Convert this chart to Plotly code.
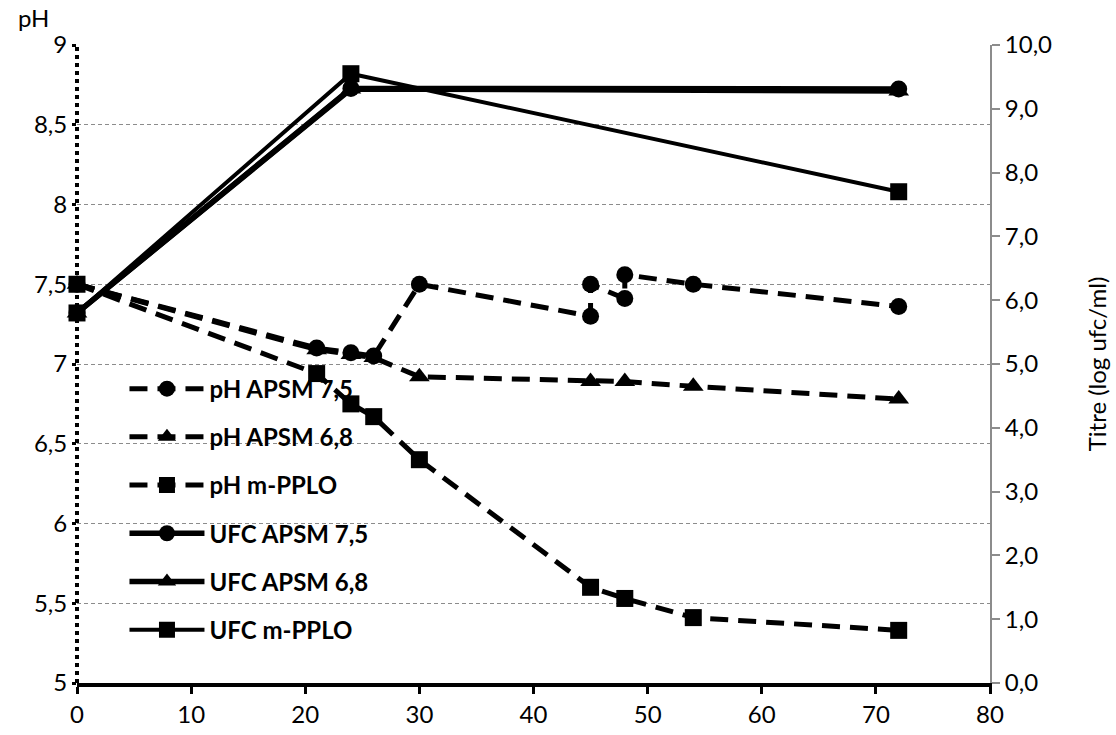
import plotly.graph_objects as go

# Time (h)
hours_apsm75 = [0, 21, 24, 26, 30, 45, 45, 48, 48, 54, 72]
ph_apsm75 = [7.5, 7.1, 7.07, 7.05, 7.5, 7.3, 7.5, 7.41, 7.56, 7.5, 7.36]

hours_apsm68 = [0, 21, 24, 26, 30, 45, 48, 54, 72]
ph_apsm68 = [7.5, 7.09, 7.06, 7.04, 6.92, 6.89, 6.89, 6.86, 6.78]

hours_pplo = [0, 21, 24, 26, 30, 45, 48, 54, 72]
ph_pplo = [7.5, 6.94, 6.75, 6.67, 6.4, 5.6, 5.53, 5.41, 5.33]

hours_ufc = [0, 24, 72]
ufc_apsm75 = [5.8, 9.32, 9.31]
ufc_apsm68 = [5.8, 9.31, 9.28]
ufc_pplo = [5.8, 9.55, 7.7]

FONT = "Lato"
DASH = "18px,10px"

fig = go.Figure()

def add(name, x, y, symbol, dash, width, axis, group):
    fig.add_trace(go.Scatter(
        x=x, y=y, name=name, mode="lines+markers",
        line=dict(color="black", width=width, dash=dash),
        marker=dict(symbol=symbol, size=17 if symbol != "triangle-up" else 18, color="black"),
        yaxis=axis, cliponaxis=False, legendgroup=group,
    ))

add("pH APSM 7,5", hours_apsm75, ph_apsm75, "circle", DASH, 5, "y", "a")
add("pH APSM 6,8", hours_apsm68, ph_apsm68, "triangle-up", DASH, 5, "y", "b")
add("pH m-PPLO", hours_pplo, ph_pplo, "square", DASH, 5, "y", "c")
add("UFC APSM 7,5", hours_ufc, ufc_apsm75, "circle", "solid", 5.5, "y2", "d")
add("UFC APSM 6,8", hours_ufc, ufc_apsm68, "triangle-up", "solid", 5.5, "y2", "e")
add("UFC m-PPLO", hours_ufc, ufc_pplo, "square", "solid", 4, "y2", "f")

# dotted left axis line
fig.add_shape(type="line", xref="paper", yref="paper", x0=0, x1=0, y0=0, y1=1,
              line=dict(color="black", width=4, dash="4px,4px"), layer="above")

fig.add_annotation(text="pH", xref="paper", yref="paper", x=-0.048, y=1.0,
                   yshift=28, xanchor="center", yanchor="middle", showarrow=False,
                   font=dict(family=FONT, size=24, color="black"))

fig.update_layout(
    width=1116, height=735,
    margin=dict(l=77, r=126, t=45, b=52),
    paper_bgcolor="white", plot_bgcolor="white",
    separators=", ",
    font=dict(family=FONT, size=24, color="black"),
    showlegend=True,
    legend=dict(x=0.052, y=0.496, xanchor="left", yanchor="top",
                bgcolor="rgba(0,0,0,0)", tracegroupgap=14, itemwidth=75,
                font=dict(family=FONT, size=24, color="black", weight="bold")),
    xaxis=dict(range=[0, 80], dtick=10, tick0=0, showgrid=False, zeroline=False,
               showline=True, linecolor="black", linewidth=4, automargin=False,
               ticks="outside", ticklen=7, tickwidth=3, tickcolor="black",
               tickfont=dict(family=FONT, size=24)),
    yaxis=dict(range=[5, 9], dtick=0.5, tick0=5, showgrid=True, automargin=False,
               gridcolor="#8c8c8c", gridwidth=1.3, griddash="4px,3px",
               zeroline=False, showline=False,
               ticks="outside", ticklen=4, tickwidth=3, tickcolor="black",
               tickfont=dict(family=FONT, size=24)),
    yaxis2=dict(range=[0, 10], dtick=1, tick0=0, overlaying="y", side="right",
                tickformat=".1f", showgrid=False, zeroline=False, automargin=False,
                showline=True, linecolor="#8c8c8c", linewidth=2,
                ticks="outside", ticklen=8, tickwidth=2, tickcolor="#8c8c8c",
                tickfont=dict(family=FONT, size=24),
                title=dict(text="Titre (log ufc/ml)", font=dict(family=FONT, size=24),
                           standoff=38)),
)

fig.write_html("out.html")
